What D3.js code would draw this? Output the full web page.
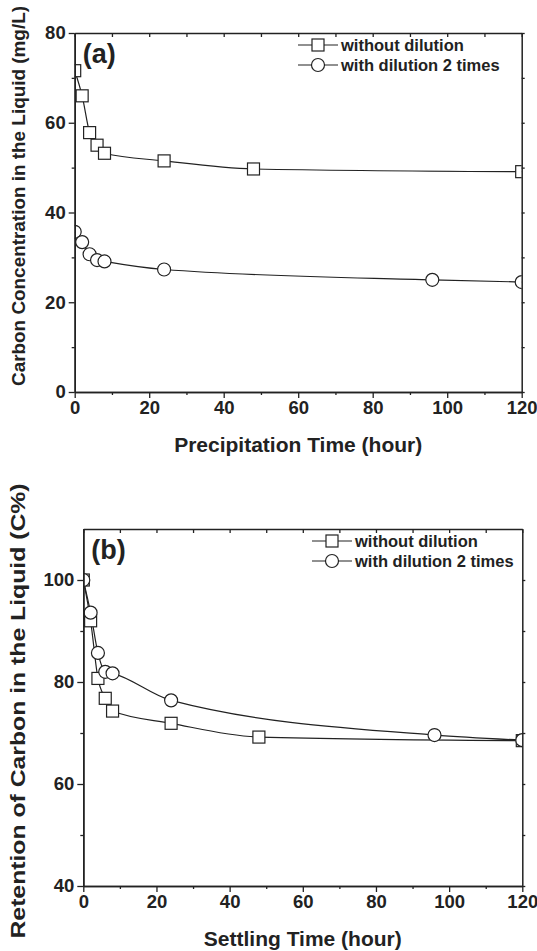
<!DOCTYPE html>
<html>
<head>
<meta charset="utf-8">
<script src="https://cdn.jsdelivr.net/npm/d3@7"></script>
<style>
  body { margin: 0; background: #fff; }
  svg { display: block; font-family: "Liberation Sans", Arial, sans-serif; }
  .domain { stroke: #222; stroke-width: 1.5; }
  .tick line { stroke: #222; stroke-width: 1.3; }
</style>
</head>
<body>
<div id="chart"></div>
<script>
// panel (a) - carbon concentration (mg/L)
const timeSquaresA = [0, 2, 4, 6, 8, 24, 48, 120];
const withoutDilutionA = [71.6, 66.0, 57.8, 55.0, 53.2, 51.5, 49.7, 49.1];
const timeCirclesA = [0, 2, 4, 6, 8, 24, 96, 120];
const withDilutionA = [35.7, 33.4, 30.7, 29.4, 29.1, 27.3, 25.0, 24.5];

// panel (b) - retention of carbon (%)
const timeSquaresB = [0, 2, 4, 6, 8, 24, 48, 120];
const withoutDilutionB = [100, 92.0, 80.7, 76.8, 74.3, 71.9, 69.2, 68.5];
const timeCirclesB = [0, 2, 4, 6, 8, 24, 96, 120];
const withDilutionB = [100, 93.6, 85.7, 82.0, 81.7, 76.4, 69.6, 68.6];

const xTicks = [0, 20, 40, 60, 80, 100, 120];
const xMinor = [10, 30, 50, 70, 90, 110];
const yTicksA = [0, 20, 40, 60, 80];
const yMinorA = [10, 30, 50, 70];
const yTicksB = [40, 60, 80, 100];
const yMinorB = [50, 70, 90];
const legendLabels = ["without dilution", "with dilution 2 times"];

const W = 537, H = 951;
const ink = "#222";

const svg = d3.select("#chart").append("svg")
    .attr("width", W)
    .attr("height", H);

// bold tick labels like the original
function styleTicks(sel) {
    sel.selectAll("text")
        .attr("font-family", "Liberation Sans, Arial, sans-serif")
        .attr("font-size", "18.5px")
        .attr("font-weight", "bold")
        .attr("fill", ink);
}

function drawPanel(p) {
    const x = d3.scaleLinear().domain([0, 120]).range([p.left, p.right]);
    const y = d3.scaleLinear().domain(p.yDomain).range([p.bottom, p.top]);
    const g = svg.append("g");

    // clip so markers at t=0 are cut by the frame
    g.append("clipPath").attr("id", "clip-" + p.id)
        .append("rect")
        .attr("x", p.left).attr("y", p.top)
        .attr("width", p.right - p.left).attr("height", p.bottom - p.top);

    const plot = g.append("g").attr("clip-path", `url(#clip-${p.id})`);
    const line = d3.line()
        .x(d => x(d[0]))
        .y(d => y(d[1]))
        .curve(d3.curveMonotoneX);

    const sq = d3.zip(p.tSq, p.vSq);
    const ci = d3.zip(p.tCi, p.vCi);

    plot.append("path").datum(sq).attr("d", line)
        .attr("fill", "none").attr("stroke", ink).attr("stroke-width", 1.2);
    plot.append("path").datum(ci).attr("d", line)
        .attr("fill", "none").attr("stroke", ink).attr("stroke-width", 1.2);

    const s = 12;
    plot.selectAll("rect.sq").data(sq).join("rect")
        .attr("class", "sq")
        .attr("x", d => x(d[0]) - s / 2)
        .attr("y", d => y(d[1]) - s / 2)
        .attr("width", s).attr("height", s)
        .attr("fill", "#fff").attr("stroke", ink).attr("stroke-width", 1.2);
    plot.selectAll("circle.ci").data(ci).join("circle")
        .attr("class", "ci")
        .attr("cx", d => x(d[0]))
        .attr("cy", d => y(d[1]))
        .attr("r", 6.5)
        .attr("fill", "#fff").attr("stroke", ink).attr("stroke-width", 1.2);

    // axes
    g.append("g").attr("transform", `translate(0,${p.bottom})`)
        .call(d3.axisBottom(x).tickValues(xMinor).tickSize(3).tickFormat("").tickSizeOuter(0));
    g.append("g").attr("transform", `translate(0,${p.bottom})`)
        .call(d3.axisBottom(x).tickValues(xTicks).tickSize(6).tickPadding(3).tickSizeOuter(0))
        .call(styleTicks);
    g.append("g").attr("transform", `translate(${p.left},0)`)
        .call(d3.axisLeft(y).tickValues(p.yMinor).tickSize(3).tickFormat("").tickSizeOuter(0));
    g.append("g").attr("transform", `translate(${p.left},0)`)
        .call(d3.axisLeft(y).tickValues(p.yTicks).tickSize(6).tickPadding(3).tickSizeOuter(0))
        .call(styleTicks);
    g.append("g").attr("transform", `translate(0,${p.top})`)
        .call(d3.axisTop(x).tickValues(xTicks.concat(xMinor)).tickSize(-4).tickFormat("").tickSizeOuter(0));
    g.append("g").attr("transform", `translate(${p.right},0)`)
        .call(d3.axisRight(y).tickValues(p.yTicks.concat(p.yMinor)).tickSize(3).tickFormat("").tickSizeOuter(0));

    // titles
    g.append("text")
        .attr("x", (p.left + p.right) / 2)
        .attr("y", p.bottom + 60)
        .attr("text-anchor", "middle")
        .attr("font-size", "21px").attr("font-weight", "bold").attr("fill", ink)
        .text(p.xTitle);
    g.append("text")
        .attr("transform", `translate(25,${p.yTitleMid}) rotate(-90)`)
        .attr("text-anchor", "middle")
        .attr("font-size", p.yTitleSize + "px").attr("font-weight", "bold").attr("fill", ink)
        .attr("textLength", p.yTitleLen).attr("lengthAdjust", "spacingAndGlyphs")
        .text(p.yTitle);
    g.append("text")
        .attr("x", p.left + 8).attr("y", p.top + 30)
        .attr("font-size", "27px").attr("font-weight", "bold").attr("fill", ink)
        .text(p.label);

    // legend
    const lg = g.append("g").attr("transform", `translate(${p.legX},${p.legY})`);
    legendLabels.forEach((name, i) => {
        const row = lg.append("g").attr("transform", `translate(0,${i * 20})`);
        row.append("line").attr("x1", 0).attr("x2", 40)
            .attr("stroke", ink).attr("stroke-width", 1.2);
        if (i === 0) {
            row.append("rect").attr("x", 14).attr("y", -6).attr("width", 12).attr("height", 12)
                .attr("fill", "#fff").attr("stroke", ink).attr("stroke-width", 1.2);
        } else {
            row.append("circle").attr("cx", 20).attr("r", 6.5)
                .attr("fill", "#fff").attr("stroke", ink).attr("stroke-width", 1.2);
        }
        row.append("text").attr("x", 43).attr("y", 6)
            .attr("font-size", "16.5px").attr("font-weight", "bold").attr("fill", ink)
            .text(name);
    });
}

drawPanel({
    id: "a", left: 74.7, right: 521.7, top: 33, bottom: 392,
    yDomain: [0, 80], yTicks: yTicksA, yMinor: yMinorA,
    tSq: timeSquaresA, vSq: withoutDilutionA, tCi: timeCirclesA, vCi: withDilutionA,
    xTitle: "Precipitation Time (hour)",
    yTitle: "Carbon Concentration in the Liquid (mg/L)", yTitleMid: 196, yTitleLen: 380, yTitleSize: 19,
    label: "(a)", legX: 298, legY: 45
});

drawPanel({
    id: "b", left: 83.3, right: 522.3, top: 529, bottom: 886,
    yDomain: [40, 110], yTicks: yTicksB, yMinor: yMinorB,
    tSq: timeSquaresB, vSq: withoutDilutionB, tCi: timeCirclesB, vCi: withDilutionB,
    xTitle: "Settling Time (hour)",
    yTitle: "Retention of Carbon in the Liquid (C%)", yTitleMid: 711, yTitleLen: 455, yTitleSize: 21,
    label: "(b)", legX: 312, legY: 541
});
</script>
</body>
</html>
